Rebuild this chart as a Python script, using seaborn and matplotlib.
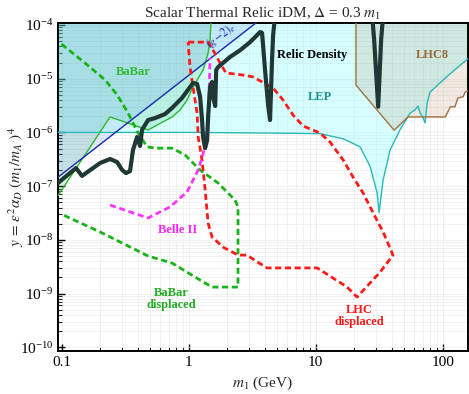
import numpy as np
import pandas as pd
import matplotlib
matplotlib.use("Agg")
import matplotlib.pyplot as plt
import matplotlib.ticker as mticker
import seaborn as sns

# ---------------- data ----------------
# Relic density (thick dark line), two pieces
relic1_m = [0.0938, 0.10, 0.130, 0.145, 0.201, 0.241, 0.274, 0.300, 0.322, 0.346, 0.365, 0.393,
            0.415, 0.430, 0.480, 0.545, 0.653, 0.741, 0.889, 1.084, 1.167, 1.233, 1.277, 1.30,
            1.349, 1.40, 1.425, 1.476, 1.53, 1.56, 1.62, 1.65, 1.71, 2.12, 2.55, 3.05, 3.66,
            3.79, 4.0, 4.23, 4.38, 4.54, 4.63, 4.8]
relic1_y = [1.14e-7, 1.3e-7, 2.17e-7, 1.55e-7, 2.69e-7, 3.2e-7, 2.8e-7, 2.0e-7, 1.75e-7, 1.9e-7,
            4.7e-7, 8.2e-7, 5.6e-7, 1.11e-6, 1.7e-6, 1.85e-6, 2.2e-6, 2.85e-6, 4.4e-6, 8.3e-6,
            8.0e-6, 4.57e-6, 1.7e-6, 8.2e-7, 5.1e-7, 7.2e-7, 1.94e-6, 7.0e-6, 8.7e-6, 4.57e-6,
            3.1e-6, 1.45e-5, 1.65e-5, 2.54e-5, 3.4e-5, 4.8e-5, 7.4e-5, 7.1e-5, 1.45e-5, 3.2e-6,
            1.7e-6, 2.2e-5, 6.5e-5, 1.5e-4]
relic2_m = [27.9, 28.9, 31.1, 32.8, 34.0]
relic2_y = [1.5e-4, 5.3e-5, 3.0e-6, 5.3e-5, 1.5e-4]

# LEP bound
lep_m = [0.09, 1.0, 5.0, 10.8, 16.5, 22.4, 26.9, 30.5, 31.6, 34.0, 38.6, 46.0, 55.5, 60.5,
         64.0, 66.5, 70.0, 72.8, 75.5, 79.5, 101.0, 130.0, 160.0]
lep_y = [1.0e-6, 1.0e-6, 9.7e-7, 9.5e-7, 7.6e-7, 5.4e-7, 2.3e-7, 7.5e-8, 3.2e-8, 1.3e-7,
         4.7e-7, 1.1e-6, 2.3e-6, 2.6e-6, 3.1e-6, 2.3e-6, 1.9e-6, 1.5e-6, 3.5e-6, 5.6e-6,
         9.5e-6, 1.6e-5, 2.4e-5]

# LHC8 bound
lhc8_m = [20.8, 20.8, 41.5, 53.5, 105.0, 115.0, 125.0, 132.0, 145.0, 150.0, 165.0]
lhc8_y = [2.0e-4, 7.6e-6, 1.1e-6, 1.94e-6, 1.94e-6, 3.0e-6, 3.0e-6, 4.4e-6, 4.6e-6, 5.6e-6, 6.2e-6]

# BaBar (solid) bound
babar_m = [0.0922, 0.241, 0.480, 0.741, 0.857, 0.973, 1.084, 1.30, 1.425, 1.476, 1.50, 1.53]
babar_y = [6.27e-8, 1.94e-6, 1.11e-6, 1.94e-6, 2.61e-6, 4.0e-6, 7.0e-6, 1.45e-5, 3.0e-5,
           5.3e-5, 1.09e-4, 2.0e-4]

# (g-2)_e line
g2_m = [0.09, 4.0]
g2_y = [1.36e-7, 1.48e-4]

# BaBar displaced (green dashed)
bbd_m = [0.1, 0.153, 0.22, 0.274, 0.334, 0.40, 0.471, 0.545, 0.741, 0.938, 1.23, 1.71, 2.32,
         2.45, 2.45, 1.53, 1.125, 0.741, 0.48, 0.201, 0.1]
bbd_y = [4.4e-5, 1.96e-5, 9.5e-6, 5.0e-6, 2.3e-6, 9.8e-7, 5.4e-7, 5.1e-7, 5.1e-7, 3.8e-7,
         2.0e-7, 1.14e-7, 5.5e-8, 4.1e-8, 1.32e-9, 1.32e-9, 2.03e-9, 3.7e-9, 5.0e-9, 1.4e-8, 3.0e-8]

# LHC displaced (red dashed, closed)
lhcd_m = [0.991, 1.425, 1.53, 1.77, 1.97, 2.69, 3.22, 4.63, 5.55, 6.65, 7.97, 9.06, 10.8, 13.0,
          16.5, 19.7, 23.7, 28.4, 34.0, 40.7, 32.2, 21.2, 17.7, 10.3, 4.15, 3.46, 2.89, 2.45,
          1.87, 1.53, 1.425, 1.35, 1.277, 1.19, 1.167, 1.084, 1.027, 0.991]
lhcd_y = [4.8e-5, 4.8e-5, 3.7e-5, 1.96e-5, 1.28e-5, 1.17e-5, 1.08e-5, 6.7e-6, 4.0e-6, 2.1e-6,
          1.32e-6, 1.16e-6, 9.8e-7, 6.6e-7, 3.06e-7, 1.48e-7, 7.4e-8, 3.16e-8, 1.4e-8, 5.2e-9,
          2.5e-9, 8.6e-10, 1.32e-9, 3.0e-9, 3.0e-9, 3.9e-9, 5.2e-9, 5.2e-9, 7.3e-9, 1.13e-8,
          2.06e-8, 8.5e-8, 3.06e-7, 8.2e-7, 2.3e-6, 7.0e-6, 1.65e-5, 4.8e-5]

# Belle II (magenta dashed)
belle_m = [0.241, 0.48, 0.714, 0.973, 1.167, 1.277, 1.374, 1.425, 1.45, 1.476]
belle_y = [4.45e-8, 2.55e-8, 4.1e-8, 7.8e-8, 1.83e-7, 3.3e-7, 7.2e-7, 1.7e-6, 5.0e-6, 2.43e-5]

# tick values
x_ticks = [0.1, 1, 10, 100]
x_tick_labels = ["0.1", "1", "10", "100"]
y_ticks = [1e-10, 1e-9, 1e-8, 1e-7, 1e-6, 1e-5, 1e-4]

XMIN, XMAX = 0.0938, 158.6
YMIN, YMAX = 8.5e-11, 1.089e-4
TOP = 1e-2

# ---------------- style ----------------
sns.set_theme(style="white")
plt.rcParams["font.family"] = ["Liberation Serif", "DejaVu Serif"]
plt.rcParams["mathtext.fontset"] = "stix"

fig = plt.figure(figsize=(4.69, 3.94), dpi=100)
ax = fig.add_axes([0.1237, 0.109, 0.998 - 0.1237, 0.9416 - 0.109])
ax.set_xscale("log")
ax.set_yscale("log")
ax.set_xlim(XMIN, XMAX)
ax.set_ylim(YMIN, YMAX)

# fills
ax.fill_between(lep_m, lep_y, TOP, color=(0.5, 1.0, 1.0), alpha=0.3, lw=0, zorder=1)
bx = list(babar_m) + [babar_m[-1], 0.05, 0.05]
by = list(babar_y) + [TOP, TOP, babar_y[0]]
ax.fill(bx, by, color=(0.1, 0.7, 0.3), alpha=0.16, lw=0, zorder=1.1)
ax.fill_between(g2_m, g2_y, TOP, color=(0.3, 0.45, 0.95), alpha=0.15, lw=0, zorder=1.2)
ax.fill_between(lhc8_m, lhc8_y, TOP, color=(0.63, 0.44, 0.25), alpha=0.15, lw=0, zorder=1.3)

def line(mx, my, **kw):
    df = pd.DataFrame({"m": mx, "y": my})
    sns.lineplot(data=df, x="m", y="y", sort=False, estimator=None, ax=ax, legend=False, **kw)

line(lep_m, lep_y, color="#2ab8b8", lw=1.0, zorder=3)
line(lhc8_m, lhc8_y, color="#a07040", lw=1.0, zorder=3)
line(babar_m, babar_y, color="#2db82d", lw=1.0, zorder=3)
line(g2_m, g2_y, color="#1a2ab0", lw=1.0, zorder=3)

dash = (2.2, 1.3)
line(bbd_m, bbd_y, color="#19b319", lw=2.0, dashes=dash, zorder=4)
line(lhcd_m, lhcd_y, color="#ff1a1a", lw=2.0, dashes=dash, zorder=4)
line(belle_m, belle_y, color="#ff33ff", lw=2.0, dashes=dash, zorder=4)
line(relic1_m, relic1_y, color="#1f3836", lw=3.0, zorder=5)
line(relic2_m, relic2_y, color="#1f3836", lw=3.0, zorder=5)

# labels
bold = dict(fontweight="bold", fontsize=9, ha="center", va="center", zorder=6)
ax.text(0.366, 1.33e-5, "BaBar", color="#33b833", **bold)
ax.text(1.80, 6.3e-5, r"$(g\!-\!2)_e$", color="#1a2ab0", fontsize=8.5, rotation=38,
        ha="center", va="center", rotation_mode="anchor", zorder=6)
ax.text(9.37, 2.76e-5, "Relic Density", color="black", **bold)
ax.text(10.8, 4.56e-6, "LEP", color="#1f9090", **bold)
ax.text(82.6, 2.76e-5, "LHC8", color="#9a6a3a", **bold)
ax.text(0.826, 1.52e-8, "Belle II", color="#ff22ff", **bold)
ax.text(0.727, 7.9e-10, "BaBar\ndisplaced", color="#22aa22", linespacing=1.0, **bold)
ax.text(22.0, 3.8e-10, "LHC\ndisplaced", color="#ff1a1a", linespacing=1.0, **bold)

# axes cosmetics
ax.xaxis.set_major_locator(mticker.FixedLocator(x_ticks))
ax.xaxis.set_major_formatter(mticker.FixedFormatter(x_tick_labels))
ax.xaxis.set_minor_locator(mticker.LogLocator(base=10, subs=np.arange(2, 10), numticks=20))
ax.xaxis.set_minor_formatter(mticker.NullFormatter())
ax.yaxis.set_major_locator(mticker.FixedLocator(y_ticks))
ax.yaxis.set_major_formatter(mticker.LogFormatterSciNotation())
ax.yaxis.set_minor_locator(mticker.LogLocator(base=10, subs=np.arange(2, 10), numticks=20))
ax.yaxis.set_minor_formatter(mticker.NullFormatter())
ax.tick_params(axis="both", which="major", direction="in", length=5, width=1,
               labelsize=11, bottom=True, left=True, top=False, right=False, colors="black")
ax.tick_params(axis="both", which="minor", direction="in", length=3, width=0.8,
               bottom=True, left=True, top=False, right=False)
ax.grid(True, which="both", color="#ececec", lw=0.5, zorder=0)
ax.set_axisbelow(True)
for s in ax.spines.values():
    s.set_color("black")
    s.set_linewidth(1.4)

ax.set_xlabel(r"$m_1$ (GeV)", fontsize=11, labelpad=4)
ax.set_ylabel(r"$y\,=\,\epsilon^2\alpha_D\;(m_1/m_{A^\prime})^4$", fontsize=11)
ax.yaxis.set_label_coords(-0.078, 0.5)
ax.set_title(r"Scalar Thermal Relic iDM, $\Delta$ = 0.3 $m_1$", fontsize=11, pad=4)

fig.savefig("out.png", dpi=100)
